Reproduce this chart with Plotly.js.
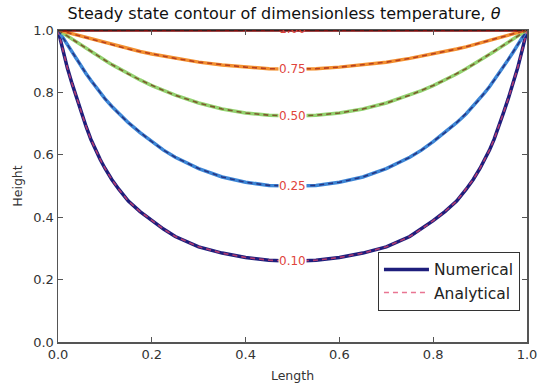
<!DOCTYPE html>
<html>
<head>
<meta charset="utf-8">
<script src="https://cdn.plot.ly/plotly-3.0.1.min.js"></script>
<style>html,body{margin:0;padding:0;background:#fff}#chart{width:538px;height:385px}</style>
</head>
<body>
<div id="chart"></div>
<script>
// Contour levels and their labels
const levels = [0.10, 0.25, 0.50, 0.75];
const levelLabels = ["0.10", "0.25", "0.50", "0.75"];
const topLabel = "1.00";

// x positions (Length) along each contour
const xLen = [0,0.005,0.01,0.02,0.03,0.04,0.05,0.06,0.07,0.08,0.09,0.1,0.115,0.13,0.15,0.175,0.2,0.225,0.25,0.3,0.35,0.4,0.45,0.5,
              0.55,0.6,0.65,0.7,0.75,0.775,0.8,0.825,0.85,0.87,0.885,0.9,0.91,0.92,0.93,0.94,0.95,0.96,0.97,0.98,0.99,0.995,1];

// Height of each contour at those x positions
const yLevel010 = [1,0.968,0.937,0.878,0.828,0.78,0.735,0.69,0.65,0.615,0.585,0.557,0.52,0.489,0.452,0.418,0.389,0.362,0.338,0.305,0.285,0.271,0.262,0.259,
                   0.262,0.271,0.285,0.305,0.338,0.362,0.389,0.418,0.452,0.489,0.52,0.557,0.585,0.615,0.65,0.69,0.735,0.78,0.828,0.878,0.937,0.968,1];
const yLevel025 = [1,0.988,0.976,0.952,0.928,0.905,0.882,0.86,0.839,0.818,0.799,0.78,0.755,0.731,0.703,0.671,0.642,0.615,0.592,0.556,0.529,0.512,0.502,0.50,
                   0.502,0.512,0.529,0.556,0.592,0.615,0.642,0.671,0.703,0.731,0.755,0.78,0.799,0.818,0.839,0.86,0.882,0.905,0.928,0.952,0.976,0.988,1];
const yLevel050 = [1,0.995,0.99,0.98,0.97,0.96,0.951,0.941,0.931,0.922,0.912,0.903,0.889,0.876,0.859,0.84,0.822,0.806,0.791,0.766,0.747,0.734,0.727,0.724,
                   0.727,0.734,0.747,0.766,0.791,0.806,0.822,0.84,0.859,0.876,0.889,0.903,0.912,0.922,0.931,0.941,0.951,0.96,0.97,0.98,0.99,0.995,1];
const yLevel075 = [1,0.998,0.996,0.992,0.988,0.984,0.979,0.975,0.971,0.967,0.962,0.958,0.952,0.946,0.939,0.931,0.923,0.916,0.909,0.897,0.888,0.881,0.876,0.875,
                   0.876,0.881,0.888,0.897,0.909,0.916,0.923,0.931,0.939,0.946,0.952,0.958,0.962,0.967,0.971,0.975,0.979,0.984,0.988,0.992,0.996,0.998,1];
const yLevels = [yLevel010, yLevel025, yLevel050, yLevel075];

// The 1.00 contour runs along the top edge
const xTop = [0, 0.5, 1];
const yTop = [1, 1, 1];

// Axis ticks
const tickVals = [0, 0.2, 0.4, 0.6, 0.8, 1.0];
const tickText = ["0.0", "0.2", "0.4", "0.6", "0.8", "1.0"];

// Styles
const numColors = ["#1e1e7c", "#3d86d6", "#93d270", "#f39030"];
const anaColors = ["rgba(225,70,110,0.75)", "#263684", "#7c5a2c", "#b8401e"];
const lblFont = {family: "DejaVu Sans", size: 12, color: "#e0443c"};

const traces = [];
levels.forEach((lv, i) => {
  traces.push({
    x: xLen, y: yLevels[i], type: "scatter", mode: "lines",
    line: {color: numColors[i], width: 3.5},
    name: "Numerical", legendgroup: "num", showlegend: i === 0, hoverinfo: "skip"
  });
});
traces.push({x: xTop, y: yTop, type: "scatter", mode: "lines", line: {color: "#7a0a0a", width: 3.5},
             showlegend: false, hoverinfo: "skip", cliponaxis: false});
levels.forEach((lv, i) => {
  traces.push({
    x: xLen, y: yLevels[i], type: "scatter", mode: "lines",
    line: {color: anaColors[i], width: 1.6, dash: "5px,4px"},
    name: "Analytical", legendgroup: "ana", showlegend: i === 0, hoverinfo: "skip"
  });
});
traces.push({x: xTop, y: yTop, type: "scatter", mode: "lines", line: {color: "#222", width: 1.6, dash: "5px,4px"},
             showlegend: false, hoverinfo: "skip", cliponaxis: false});

// top (1.00) label is clipped by the axes, so draw it as a clipped text trace
traces.push({
  x: [xTop[1]], y: [yTop[1]], type: "scatter", mode: "text",
  text: [topLabel], textposition: "middle center", cliponaxis: true,
  textfont: lblFont, showlegend: false, hoverinfo: "skip"
});

const mid = 23;
const annotations = levels.map((lv, i) => ({
  x: xLen[mid], y: yLevels[i][mid], xref: "x", yref: "y", text: levelLabels[i],
  showarrow: false, bgcolor: "#ffffff", borderpad: 0, font: lblFont
}));

const axisCommon = {
  range: [0, 1], tickvals: tickVals, ticktext: tickText, ticks: "inside", ticklen: 5, tickwidth: 1,
  tickcolor: "#555", showline: true, linecolor: "#555", linewidth: 1.5, mirror: "allticks",
  showgrid: false, zeroline: false, tickfont: {family: "DejaVu Sans", size: 13, color: "#333"}
};

const layout = {
  width: 538, height: 385,
  margin: {l: 58, r: 11, t: 30, b: 43},
  paper_bgcolor: "#fff", plot_bgcolor: "#fff",
  title: {text: "Steady state contour of dimensionless temperature, <i>θ</i>",
          font: {family: "DejaVu Sans", size: 16, color: "#111"}, x: 0.528, xanchor: "center", y: 0.965, yanchor: "middle"},
  xaxis: Object.assign({}, axisCommon, {title: {text: "Length", font: {family: "DejaVu Sans", size: 12.5, color: "#333"}, standoff: 10}}),
  yaxis: Object.assign({}, axisCommon, {title: {text: "Height", font: {family: "DejaVu Sans", size: 12.5, color: "#333"}, standoff: 8}}),
  legend: {x: 0.985, xanchor: "right", y: 0.1, yanchor: "bottom", bgcolor: "#fff", bordercolor: "#333", borderwidth: 1,
           font: {family: "DejaVu Sans", size: 15.5, color: "#222"}, tracegroupgap: 0, itemwidth: 45},
  annotations: annotations,
  showlegend: true
};

Plotly.newPlot("chart", traces, layout, {staticPlot: true, displayModeBar: false});
</script>
</body>
</html>
